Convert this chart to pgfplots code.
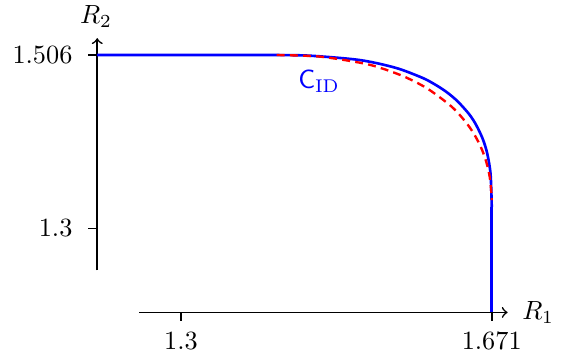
\documentclass[border=0pt]{standalone}
\usepackage{pgfplots}
\pgfplotsset{compat=1.18}
\begin{document}
\begin{tikzpicture}
\begin{axis}[
  hide axis,
  x=318.4pt, y=319.8pt,
  xmin=1.0839, xmax=1.7537, ymin=1.1422, ymax=1.5714,
  clip=false,
]
\path (rel axis cs:0,0) rectangle (rel axis cs:1,1);
% axis lines
\draw[line width=0.6pt,->] (axis cs:1.25,1.2) -- (axis cs:1.69,1.2);
\draw[line width=0.6pt,->] (axis cs:1.2,1.25) -- (axis cs:1.2,1.526);
% ticks
\draw[line width=0.6pt] (axis cs:1.3,1.2) -- (axis cs:1.3,1.19);
\draw[line width=0.6pt] (axis cs:1.671,1.2) -- (axis cs:1.671,1.19);
\draw[line width=0.6pt] (axis cs:1.2,1.506) -- (axis cs:1.189,1.506);
\draw[line width=0.6pt] (axis cs:1.2,1.3) -- (axis cs:1.189,1.3);
% tick labels
\node[anchor=north, inner sep=0pt] at (axis cs:1.3,1.1766) {$1.3$};
\node[anchor=north, inner sep=0pt] at (axis cs:1.671,1.1766) {$1.671$};
\node[anchor=east, inner sep=0pt] at (axis cs:1.1710,1.506) {$1.506$};
\node[anchor=east, inner sep=0pt] at (axis cs:1.1710,1.3) {$1.3$};
% axis labels
\node[anchor=north, inner sep=0pt] at (axis cs:1.1985,1.5655) {$R_2$};
\node[anchor=base west, inner sep=0pt] at (axis cs:1.7068,1.1915) {$R_1$};
% blue curve
\addplot[blue, line width=1pt, smooth, tension=0.5] coordinates {
  (1.2,1.506) (1.3,1.506) (1.3964,1.506) (1.4513,1.5053) (1.5062,1.5009)
  (1.5337,1.4963) (1.5611,1.4893) (1.5886,1.4787) (1.6023,1.4715)
  (1.6161,1.4627) (1.6298,1.4514) (1.6435,1.4363) (1.6518,1.4239)
  (1.6600,1.4069) (1.6655,1.3894) (1.6696,1.3644) (1.6710,1.3253)
};
\addplot[blue, line width=1pt] coordinates {(1.671,1.3253) (1.671,1.2)};
% red dashed curve
\addplot[red, line width=0.9pt, dash pattern=on 3pt off 2pt, smooth, tension=0.5] coordinates {
  (1.4143,1.506) (1.4656,1.5041) (1.5170,1.4962) (1.5426,1.4892) (1.5683,1.4795)
  (1.5940,1.4662) (1.6196,1.4476) (1.6325,1.4351) (1.6453,1.4191)
  (1.6556,1.4017) (1.6633,1.3829) (1.6684,1.3621) (1.6707,1.3404) (1.6710,1.3336)
};
\node[text=blue] at (axis cs:1.4648,1.4751) {$\mathsf{C}_{\mathrm{ID}}$};
\end{axis}
\end{tikzpicture}
\end{document}
